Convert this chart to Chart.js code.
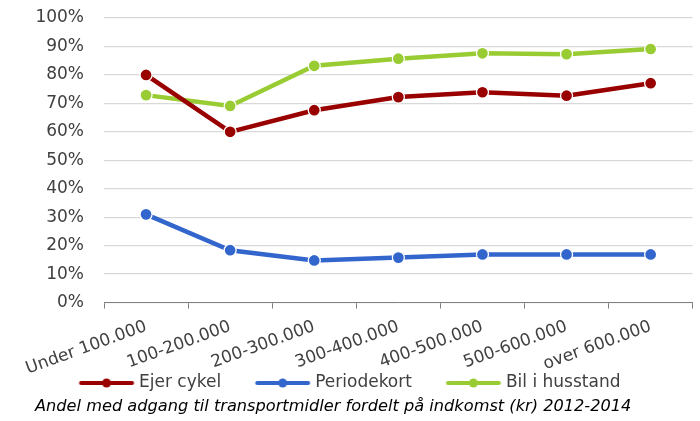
<!DOCTYPE html>
<html>
<head>
<meta charset="utf-8">
<script src="https://cdn.jsdelivr.net/npm/chart.js@4"></script>
<style>
html,body{margin:0;padding:0;background:#fff;}
#wrap{width:700px;height:421px;}
</style>
</head>
<body>
<div id="wrap"><canvas id="c" width="700" height="421"></canvas></div>
<script>
const categories = ["Under 100.000","100-200.000","200-300.000","300-400.000","400-500.000","500-600.000","over 600.000"];
const ejerCykel = [80, 60, 67.6, 72.2, 73.9, 72.7, 77.1];
const periodekort = [31, 18.4, 14.8, 15.8, 16.9, 16.9, 16.9];
const bilIHusstand = [72.9, 69.1, 83.2, 85.7, 87.6, 87.3, 89.1];
const yTicks = [0,10,20,30,40,50,60,70,80,90,100];
const seriesNames = ["Ejer cykel","Periodekort","Bil i husstand"];
const colors = ["#990000","#3366CC","#99CC33"];
const titleText = "Andel med adgang til transportmidler fordelt på indkomst (kr) 2012-2014";

function legendIcon(color){
  const cv = document.createElement('canvas');
  cv.width = 86; cv.height = 14;
  const ctx = cv.getContext('2d');
  const x0 = 29.5;
  ctx.strokeStyle = color; ctx.lineWidth = 4; ctx.lineCap = 'round';
  ctx.beginPath(); ctx.moveTo(x0+2,7); ctx.lineTo(x0+53,7); ctx.stroke();
  ctx.fillStyle = color;
  ctx.beginPath(); ctx.arc(x0+27.5,7,4.5,0,Math.PI*2); ctx.fill();
  return cv;
}
const icons = colors.map(legendIcon);

const LEGEND_PAD = 9.5;
const legendPlace = {
  id: 'legendPlace',
  afterLayout(chart){
    const lg = chart.legend;
    if (!lg) return;
    const h = lg.height;
    lg.left -= 28; lg.right -= 28;
    lg.top = 383 - LEGEND_PAD - 8.5;
    lg.bottom = lg.top + h;
    if (lg.adjustHitBoxes) lg.adjustHitBoxes();
  }
};

const font = "'DejaVu Sans', Verdana, sans-serif";
const ds = [ejerCykel, periodekort, bilIHusstand].map((d,i)=>({
  label: seriesNames[i],
  data: d,
  borderColor: colors[i],
  backgroundColor: colors[i],
  borderWidth: 4.5,
  pointRadius: 6,
  pointHoverRadius: 6,
  pointBorderColor: '#ffffff',
  pointBorderWidth: 1.3,
  pointBackgroundColor: colors[i],
  tension: 0
}));

new Chart(document.getElementById('c'), {
  type: 'line',
  data: { labels: categories, datasets: ds },
  plugins: [legendPlace],
  options: {
    responsive: false,
    animation: false,
    layout: { padding: { top: 18, right: 4, left: 35, bottom: 0 } },
    plugins: {
      legend: {
        position: 'bottom',
        labels: {
          usePointStyle: true,
          pointStyleWidth: 76,
          boxHeight: 14,
          padding: LEGEND_PAD,
          color: '#404040',
          font: { family: font, size: 17 },
          generateLabels(chart){
            return chart.data.datasets.map((d,i)=>({
              text: d.label, fillStyle: colors[i], strokeStyle: colors[i],
              pointStyle: icons[i], lineWidth: 0, hidden: false, datasetIndex: i,
              fontColor: '#404040'
            }));
          }
        }
      },
      title: {
        display: true,
        position: 'bottom',
        align: 'start',
        text: titleText,
        color: '#000000',
        font: { family: font, size: 16.2, style: 'italic', weight: 'normal' },
        padding: { top: -23, bottom: 4 }
      },
      tooltip: { enabled: false }
    },
    scales: {
      x: {
        offset: true,
        afterFit(axis){ axis.paddingLeft = 0; axis.paddingRight = 0; axis.height = 81.5; },
        grid: { display: true, offset: true, drawOnChartArea: false, drawTicks: true, tickLength: 6, color: '#808080' },
        border: { display: true, color: '#808080', width: 1 },
        ticks: { color: '#404040', font: { family: font, size: 17 }, minRotation: 20, maxRotation: 20, autoSkip: false, padding: 8 }
      },
      y: {
        min: 0, max: 100,
        afterBuildTicks(axis){ axis.ticks = yTicks.map(v=>({value:v})); },
        afterFit(axis){ axis.width = 69; axis.paddingTop = 0; axis.paddingBottom = 0; },
        grid: { color: '#D9D9D9', lineWidth: 1.3, drawTicks: false },
        border: { display: false },
        ticks: { color: '#404040', font: { family: font, size: 17 }, padding: 20, autoSkip: false, callback: v => v + '%' }
      }
    }
  }
});
</script>
</body>
</html>
